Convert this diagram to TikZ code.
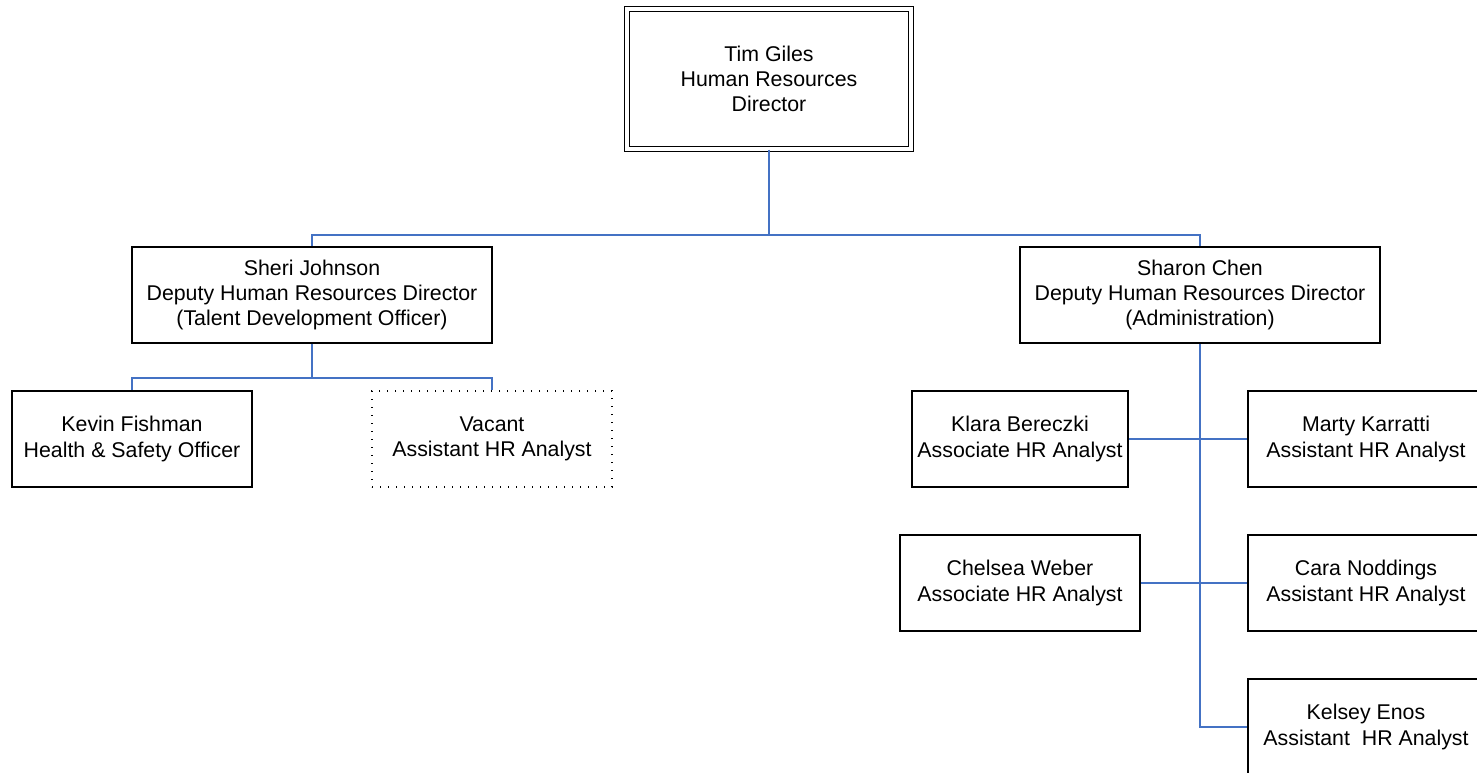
\documentclass[tikz,border=0pt]{standalone}
\usepackage{fontspec}
\setmainfont{Liberation Sans}
\definecolor{linkblue}{RGB}{68,114,196}
\begin{document}
\begin{tikzpicture}[x=0.75pt, y=-0.75pt, every node/.style={ draw=black, line width=1.4pt, align=center, inner sep=0pt, font=\fontsize{16}{19}\selectfont }, link/.style={linkblue, line width=1.1pt}, vacancy/.style={line width=0.8pt, dash pattern=on 0.8pt off 5.2pt}]
		\clip (0,0) rectangle (1477,772);
		\node[double, double distance=2.6pt, line width=0.8pt, minimum width=213pt, minimum height=105pt] (T) at (769,79) {Tim Giles\\Human Resources\\Director};
		\node[minimum width=270pt, minimum height=72pt] (J) at (312,295) {Sheri Johnson\\Deputy Human Resources Director\\(Talent Development Officer)};
		\node[minimum width=270pt, minimum height=72pt] (C) at (1200,295) {Sharon Chen\\Deputy Human Resources Director\\(Administration)};
		\node[minimum width=180pt, minimum height=72pt] (F) at (132,439) {Kevin Fishman\\Health \& Safety Officer};
		\node[vacancy, minimum width=180pt, minimum height=72pt] (V) at (492,439) {Vacant\\Assistant HR Analyst};
		\node[minimum width=162pt, minimum height=72pt] (B) at (1020,439) {Klara Bereczki\\Associate HR Analyst};
		\node[minimum width=177pt, minimum height=72pt] (M) at (1366,439) {Marty Karratti\\Assistant HR Analyst};
		\node[minimum width=180pt, minimum height=72pt] (W) at (1020,583) {Chelsea Weber\\Associate HR Analyst};
		\node[minimum width=177pt, minimum height=72pt] (N) at (1366,583) {Cara Noddings\\Assistant HR Analyst};
		\node[minimum width=177pt, minimum height=72pt] (E) at (1366,727) {Kelsey Enos\\Assistant~\ HR Analyst};
		\coordinate (t) at (769,235);
		\coordinate (j) at (312,378);
		\draw[link] (T) -- (t) -| (J);
		\draw[link] (t) -| (C);
		\draw[link] (J) -- (j) -| (F);
		\draw[link] (j) -| (V);
		\draw[link] (C) |- (E);
		\draw[link] (B) -- (M);
		\draw[link] (W) -- (N);
	\end{tikzpicture}
\end{document}
